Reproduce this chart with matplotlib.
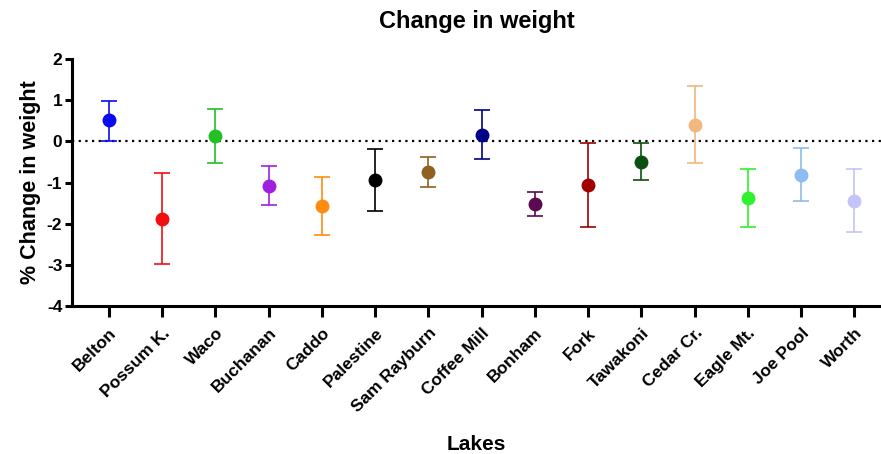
import numpy as np
import matplotlib.pyplot as plt

lakes = ['Belton', 'Possum K.', 'Waco', 'Buchanan', 'Caddo', 'Palestine',
         'Sam Rayburn', 'Coffee Mill', 'Bonham', 'Fork', 'Tawakoni',
         'Cedar Cr.', 'Eagle Mt.', 'Joe Pool', 'Worth']
mean_change = [0.51, -1.89, 0.13, -1.08, -1.57, -0.94, -0.74, 0.16, -1.53,
               -1.07, -0.49, 0.40, -1.37, -0.81, -1.44]
upper = [0.99, -0.77, 0.79, -0.60, -0.86, -0.19, -0.38, 0.75, -1.23,
         -0.04, -0.04, 1.34, -0.66, -0.17, -0.67]
lower = [0.00, -2.99, -0.52, -1.55, -2.27, -1.70, -1.11, -0.44, -1.82,
         -2.07, -0.94, -0.53, -2.09, -1.45, -2.20]
colours = ['#0a0af0', '#f01010', '#22c022', '#a020e0', '#ff8c10', '#000000',
           '#8f6020', '#000088', '#5a0a50', '#a00000', '#0a5010',
           '#f0b87c', '#30f030', '#8cbcf0', '#c4c4fa']

plt.rcParams['font.family'] = ['Liberation Sans', 'DejaVu Sans']
plt.rcParams['font.weight'] = 'bold'
plt.rcParams['axes.unicode_minus'] = False


def main():
    fig = plt.figure(figsize=(8.81, 4.54), dpi=100)
    ax = fig.add_axes([0.0817, 0.326, 0.9183, 0.544])

    x = np.arange(len(lakes))
    ax.axhline(0, color='black', linestyle=(0, (1, 2)), linewidth=1.6, zorder=1)
    for i in x:
        yerr = [[mean_change[i] - lower[i]], [upper[i] - mean_change[i]]]
        ax.errorbar(x[i], mean_change[i], yerr=yerr, fmt='o', color=colours[i],
                    markersize=9, elinewidth=1.2, capsize=5.5, capthick=1.2,
                    zorder=3)

    ax.set_xlim(-0.69, 14.5)
    ax.set_ylim(-4, 2)
    ax.set_yticks(range(-4, 3))
    ax.set_xticks(x)
    ax.set_xticklabels(lakes, rotation=45, ha='right', rotation_mode='anchor',
                       fontsize=12.5, fontweight='bold')
    for lbl in ax.get_yticklabels():
        lbl.set_fontsize(12.5)
        lbl.set_fontweight('bold')

    for side in ['top', 'right']:
        ax.spines[side].set_visible(False)
    for side in ['left', 'bottom']:
        ax.spines[side].set_linewidth(2.2)
    ax.tick_params(axis='x', length=8, width=2.2, pad=6)
    ax.tick_params(axis='y', length=5, width=2.2, pad=2)

    ax.set_title('Change in weight', fontsize=17, fontweight='bold', pad=22)
    ax.set_ylabel('% Change in weight', fontsize=15.5, fontweight='bold', labelpad=4)
    ax.set_xlabel('Lakes', fontsize=15, fontweight='bold', labelpad=14)

    fig.savefig('out.png', dpi=100)


if __name__ == "__main__":
    main()
